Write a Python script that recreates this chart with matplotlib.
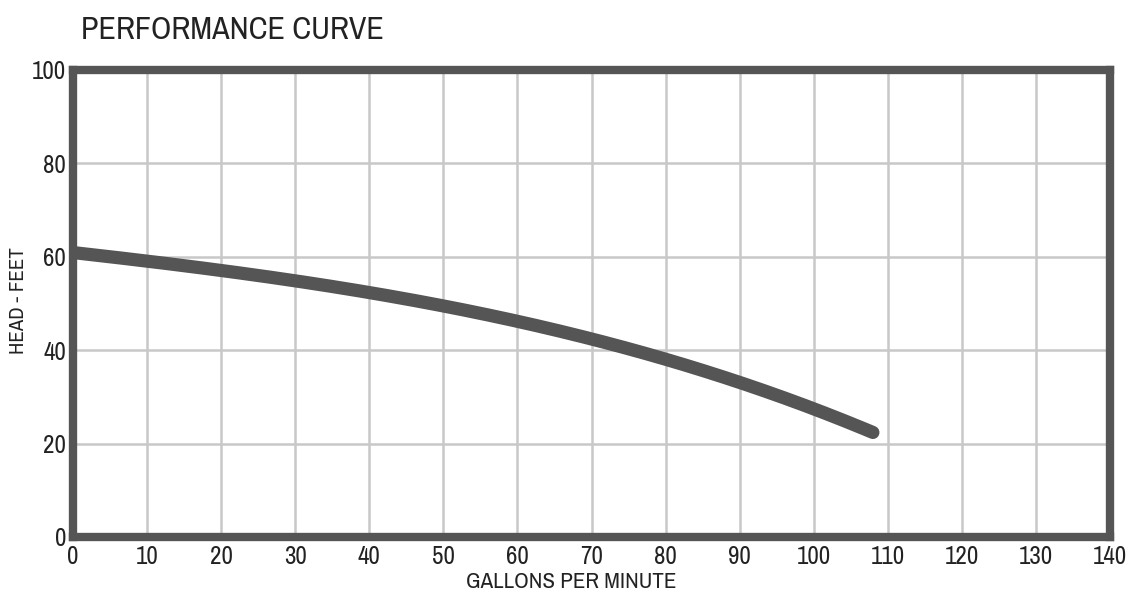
import matplotlib.pyplot as plt
import numpy as np

# flow (gpm) and head (ft)
gpm = [0, 10, 20, 30, 40, 50, 60, 70, 80, 90, 100, 108]
head = [61, 59, 57, 54.6, 52.2, 49.6, 46.6, 42.6, 37.8, 32.6, 27.6, 22.5]

x_ticks = list(range(0, 141, 10))
y_ticks = [0, 20, 40, 60, 80, 100]

plt.rcParams['font.family'] = ['Archivo Narrow', 'DejaVu Sans']

fig = plt.figure(figsize=(11.43, 6.02), dpi=100)
ax = fig.add_axes([0.064, 0.108, 0.907, 0.776])

# smooth the read points a bit
xs = np.linspace(gpm[0], gpm[-1], 200)
coef = np.polyfit(gpm, head, 3)
ax.plot(xs, np.polyval(coef, xs), color='#555555', lw=9.5, solid_capstyle='round', zorder=3)

ax.set_xlim(0, 140)
ax.set_ylim(0, 100)
ax.set_xticks(x_ticks)
ax.set_yticks(y_ticks)
ax.grid(True, color='#c8c8c8', lw=1.8)
ax.tick_params(length=0, labelsize=18, colors='#222222')
ax.tick_params(axis='x', pad=6)
ax.tick_params(axis='y', pad=5)

for s in ax.spines.values():
    s.set_linewidth(6)
    s.set_color('#555555')

ax.set_xlabel('GALLONS PER MINUTE', fontsize=16.5, color='#222222', labelpad=3, x=0.48)
fig.text(0.016, 0.5, 'HEAD - FEET', rotation=90, fontsize=15, color='#222222',
         ha='center', va='center')
fig.text(0.071, 0.935, 'PERFORMANCE CURVE', fontsize=23, color='#222222')

fig.savefig('out.png', dpi=100)
